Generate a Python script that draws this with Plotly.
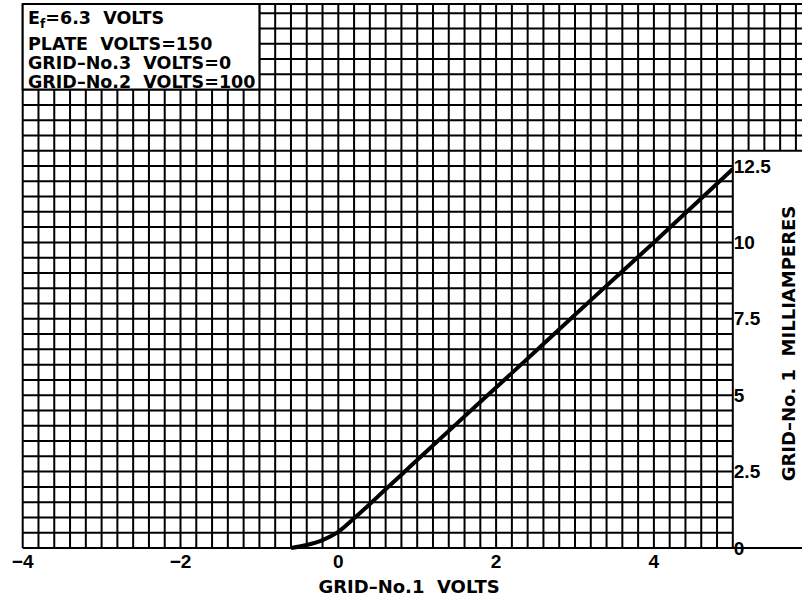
import plotly.graph_objects as go

# ---- data ----
grid1_volts = [-0.6, -0.4, -0.2, 0.0, 0.2, 0.4, 0.6, 0.8, 1.0, 1.5, 2.0, 2.5, 3.0, 3.5, 4.0, 4.5, 5.0]
grid1_ma = [0.0, 0.1, 0.26, 0.53, 0.97, 1.44, 1.92, 2.40, 2.88, 4.07, 5.25, 6.44, 7.63, 8.82, 10.0, 11.2, 12.4]

x_ticks = [-4, -2, 0, 2, 4]
x_tick_labels = ["\u22124", "\u22122", "0", "2", "4"]
y_ticks = [0, 2.5, 5, 7.5, 10, 12.5]
y_tick_labels = ["0", "2.5", "5", "7.5", "10", "12.5"]
notes = ["E<sub>f</sub>=6.3  VOLTS", "PLATE  VOLTS=150", "GRID\u2013No.3  VOLTS=0", "GRID\u2013No.2  VOLTS=100"]
x_title = "GRID\u2013No.1  VOLTS"
y_title = "GRID\u2013No. 1  MILLIAMPERES"

# ---- layout geometry ----
W, H = 802, 602
PXX, XPIX0 = 78.9, 22.7     # px per volt, pixel of x=-4
PXY, YPIX0 = 30.56, 548.0   # px per mA, pixel of y=0
L, B = 16, 46
x_left = -4 - (XPIX0 - L) / PXX
x_right = -4 + (W - XPIX0) / PXX
y_bot = -((H - B) - YPIX0) / PXY
y_top = YPIX0 / PXY

GRID_TOP = 17.8
EXT_BOTTOM = 13.0
X_MIN, X_MAX = -4.0, 5.0

line_style = dict(color="black", width=2)
shapes = []
for k in range(46):
    xv = X_MIN + 0.2 * k
    shapes.append(dict(type="line", x0=xv, x1=xv, y0=0, y1=GRID_TOP, xref="x", yref="y",
                       line=line_style, layer="below"))
for k in range(1, 6):
    xv = X_MAX + 0.2 * k
    shapes.append(dict(type="line", x0=xv, x1=xv, y0=EXT_BOTTOM, y1=GRID_TOP, xref="x", yref="y",
                       line=line_style, layer="below"))
for k in range(36):
    yv = 0.5 * k
    x1 = X_MAX if (0 < yv < EXT_BOTTOM) else x_right + 0.2
    shapes.append(dict(type="line", x0=X_MIN, x1=x1, y0=yv, y1=yv, xref="x", yref="y",
                       line=line_style, layer="below"))
shapes.append(dict(type="line", x0=X_MIN, x1=x_right + 0.2, y0=GRID_TOP, y1=GRID_TOP,
                   xref="x", yref="y", line=line_style, layer="below"))
shapes.append(dict(type="rect", x0=-4, x1=-1, y0=15, y1=GRID_TOP, xref="x", yref="y",
                   fillcolor="white", line=line_style, layer="below"))

fig = go.Figure()
fig.add_trace(go.Scatter(x=grid1_volts, y=grid1_ma, mode="lines",
                         line=dict(color="black", width=4, shape="spline", smoothing=0.8),
                         showlegend=False, hoverinfo="skip"))

tick_font = dict(family="Liberation Sans", size=19, color="black", weight="bold")
text_font = dict(family="DejaVu Sans", size=18, color="black", weight="bold")
note_font = dict(family="DejaVu Sans", size=17.5, color="black", weight="bold")

annotations = []
note_pix = [19, 44, 63, 82]
for t, py in zip(notes, note_pix):
    annotations.append(dict(text=t, x=-3.95, y=(YPIX0 - py) / PXY, xref="x", yref="y",
                            xanchor="left", yanchor="middle", showarrow=False, font=note_font,
                            borderpad=0))
annotations.append(dict(text=y_title, x=5.70, y=6.7, xref="x", yref="y", textangle=-90,
                        xanchor="center", yanchor="middle", showarrow=False, font=text_font))

fig.update_layout(
    width=W, height=H,
    margin=dict(l=L, r=0, t=0, b=B, pad=0, autoexpand=False),
    paper_bgcolor="white", plot_bgcolor="white",
    shapes=shapes, annotations=annotations,
    xaxis=dict(range=[x_left, x_right], tickvals=x_ticks, ticktext=x_tick_labels,
               showgrid=False, zeroline=False, showline=False, ticks="", automargin=False,
               anchor="free", position=(0 - y_bot) / (y_top - y_bot),
               tickfont=tick_font,
               title=dict(text=x_title, font=text_font, standoff=9)),
    yaxis=dict(range=[y_bot, y_top], tickvals=y_ticks, ticktext=y_tick_labels,
               showgrid=False, zeroline=False, showline=False, ticks="", automargin=False,
               anchor="free", side="right",
               position=(X_MAX - x_left) / (x_right - x_left),
               tickfont=tick_font),
)

fig.write_html("out.html",
               config={"displayModeBar": False},
               post_script="document.body.style.margin='0';document.body.style.overflow='hidden';")
